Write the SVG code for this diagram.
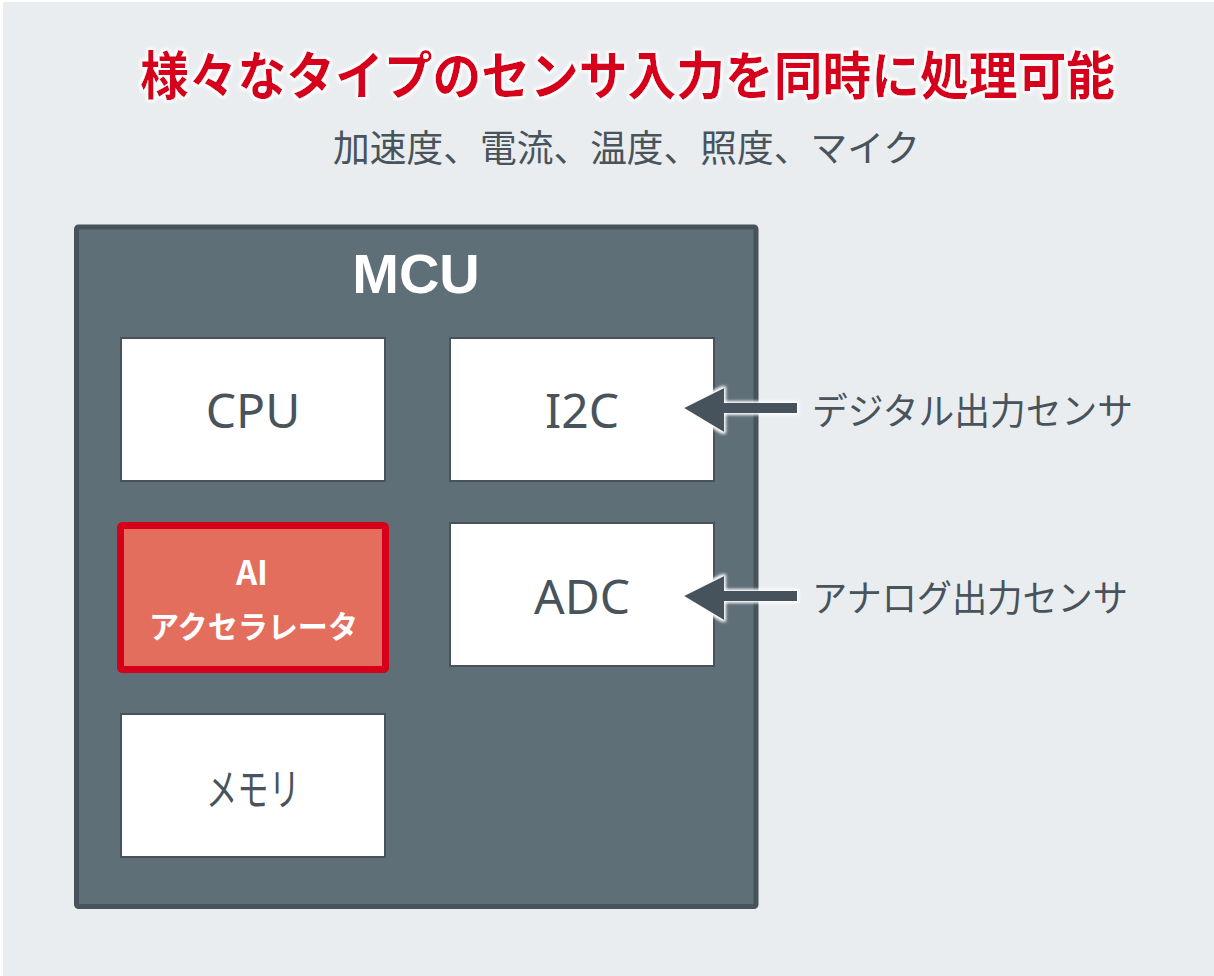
<svg xmlns="http://www.w3.org/2000/svg" width="1214" height="976" viewBox="0 0 1214 976">
<defs>
<style>
.jp{font-family:"Noto Sans CJK JP","Noto Sans",sans-serif}
.lat{font-family:"Noto Sans","Noto Sans CJK JP",sans-serif}
.box{fill:#FFFFFF;stroke:#47525B;stroke-width:2}
.lbl{fill:#48535C;font-size:48px;text-anchor:middle}
.side{fill:#48535C;font-size:37px}
.arrow{fill:#47525B;filter:url(#glow)}
</style>
<filter id="glow" x="-20%" y="-40%" width="140%" height="180%">
<feMorphology in="SourceAlpha" operator="dilate" radius="2" result="d"/>
<feGaussianBlur in="d" stdDeviation="1.5" result="b"/>
<feFlood flood-color="#FFFFFF"/>
<feComposite in2="b" operator="in" result="w"/>
<feMerge><feMergeNode in="w"/><feMergeNode in="SourceGraphic"/></feMerge>
</filter>
</defs>
<rect x="0" y="0" width="1214" height="976" fill="#FFFFFF"/>
<rect x="3" y="2" width="1211" height="974" fill="#E9EDF0"/>
<g id="title">
<text class="jp" x="140" y="95" font-size="52" font-weight="bold" fill="#D7001A" textLength="975" lengthAdjust="spacingAndGlyphs" filter="url(#glow)">様々なタイプのセンサ入力を同時に処理可能</text>
<text class="jp" x="333" y="162" font-size="37" fill="#48535C" textLength="587" lengthAdjust="spacingAndGlyphs">加速度、電流、温度、照度、マイク</text>
</g>
<g id="mcu">
<rect x="76.5" y="227" width="679.5" height="679.5" rx="2" fill="#5F6F78" stroke="#47525B" stroke-width="5"/>
<text x="416" y="293" font-size="56" font-weight="bold" fill="#FFFFFF" text-anchor="middle" font-family="'Liberation Sans', Arial, sans-serif">MCU</text>
</g>
<g id="cpu">
<rect class="box" x="121" y="338" width="264" height="143"/>
<text class="lat lbl" x="253" y="428">CPU</text>
</g>
<g id="i2c">
<rect class="box" x="450" y="338" width="264" height="143"/>
<text class="lat lbl" x="582" y="428">I2C</text>
</g>
<g id="ai">
<rect x="120.5" y="525.5" width="265" height="144" rx="2" fill="#E36E5E" stroke="#D7001A" stroke-width="7"/>
<text class="jp" x="252" y="585" font-size="33" font-weight="bold" fill="#FFFFFF" text-anchor="middle">AI</text>
<text class="jp" x="149" y="638" font-size="31" font-weight="bold" fill="#FFFFFF" textLength="209" lengthAdjust="spacingAndGlyphs">アクセラレータ</text>
</g>
<g id="adc">
<rect class="box" x="450" y="523" width="264" height="143"/>
<text class="lat lbl" x="582" y="614">ADC</text>
</g>
<g id="memory">
<rect class="box" x="121" y="714" width="264" height="143"/>
<text class="jp" x="206" y="806" font-size="44" fill="#48535C" textLength="94" lengthAdjust="spacingAndGlyphs">メモリ</text>
</g>
<g id="connectors">
<path class="arrow" d="M684,408 L724,388 L724,403 L797,403 L797,413 L724,413 L724,432 Z"/>
<path class="arrow" d="M684,596 L724,576 L724,591 L797,591 L797,601 L724,601 L724,620 Z"/>
</g>
<g id="sensors">
<text class="jp side" x="812" y="425" textLength="321" lengthAdjust="spacingAndGlyphs">デジタル出力センサ</text>
<text class="jp side" x="812" y="612" textLength="316" lengthAdjust="spacingAndGlyphs">アナログ出力センサ</text>
</g>
</svg>
